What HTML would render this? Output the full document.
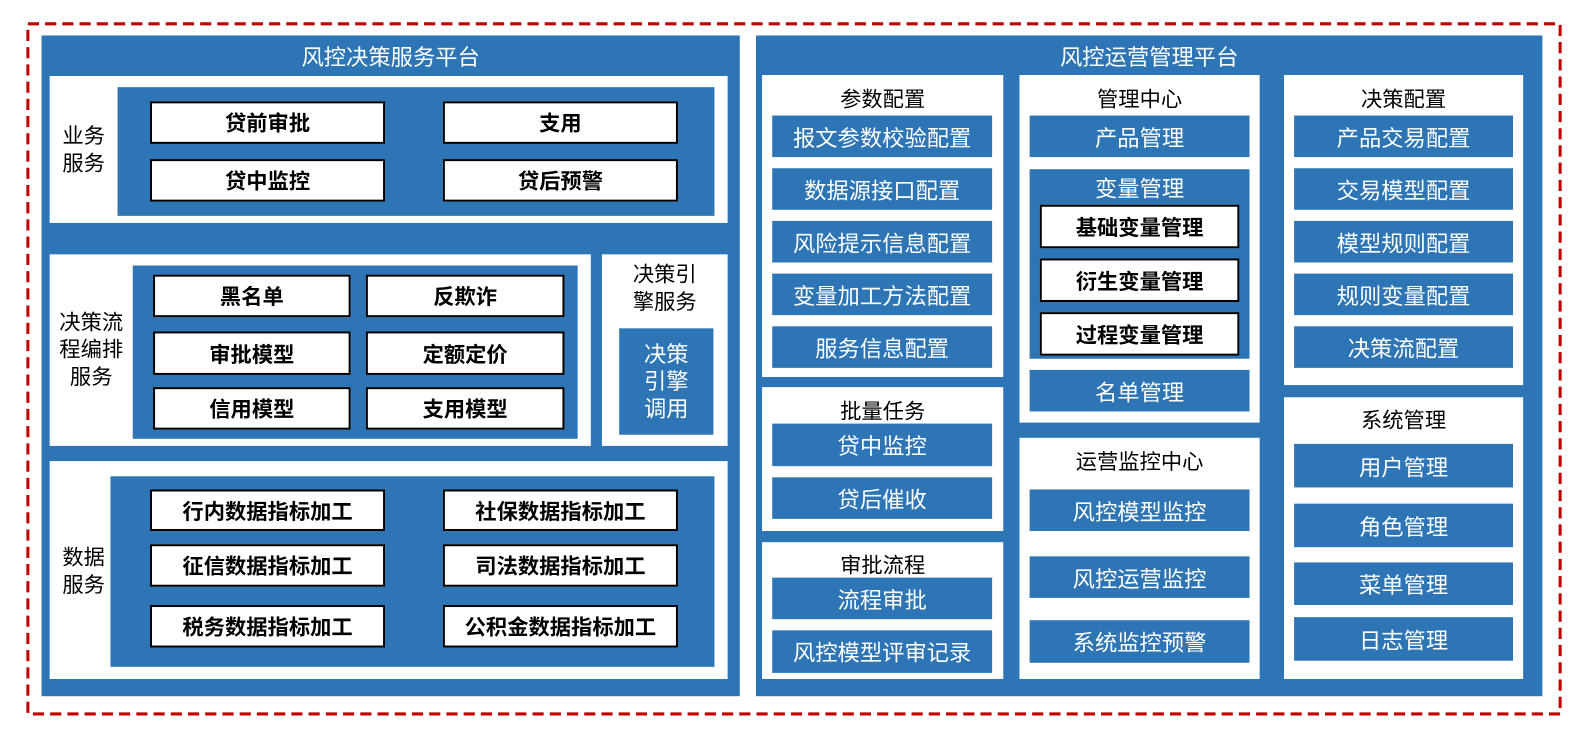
<!DOCTYPE html>
<html><head><meta charset="utf-8"><style>
body{margin:0;width:1589px;height:740px;background:#fff;position:relative;overflow:hidden;font-family:"Liberation Sans","Noto Sans CJK SC",sans-serif}
#root{position:absolute;left:0;top:0;width:1568px;height:730px;transform:scale(1.0134);transform-origin:0 0}
div{position:absolute;box-sizing:border-box}
.b{background:#2E75B6}
.w{background:#fff}
.t{color:#fff;display:flex;align-items:center;justify-content:center;font-size:22px}
.k{background:#fff;border:2px solid #000;display:flex;align-items:center;justify-content:center;font-weight:bold;font-size:21px;color:#000}
.h{color:#000;font-size:21px;text-align:center}
.i{background:#2E75B6;color:#fff;display:flex;align-items:center;justify-content:center;font-size:22px}
</style></head><body><div id="root">
<svg style="position:absolute;left:0;top:0" width="1568" height="730"><rect x="27.5" y="23.5" width="1512" height="681" fill="none" stroke="#C00000" stroke-width="3" stroke-dasharray="11,6"/></svg>

<div class="b" style="left:41px;top:35px;width:689px;height:652px"></div>
<div class="t" style="left:41px;top:40px;width:689px;height:30px">风控决策服务平台</div>
<div class="w" style="left:49px;top:75px;width:669px;height:145px"></div>
<div class="h" style="left:55px;top:121px;width:55px;line-height:27px">业务<br>服务</div>
<div class="b" style="left:116px;top:86px;width:589px;height:127px"></div>
<div class="k" style="left:148px;top:100px;width:232px;height:42px">贷前审批</div>
<div class="k" style="left:437px;top:100px;width:232px;height:42px">支用</div>
<div class="k" style="left:148px;top:157px;width:232px;height:42px">贷中监控</div>
<div class="k" style="left:437px;top:157px;width:232px;height:42px">贷后预警</div>

<div class="w" style="left:49px;top:251px;width:534px;height:189px"></div>
<div class="h" style="left:53px;top:305px;width:74px;line-height:27px">决策流<br>程编排<br>服务</div>
<div class="b" style="left:131px;top:262px;width:439px;height:171px"></div>
<div class="k" style="left:151px;top:271px;width:195px;height:42px">黑名单</div>
<div class="k" style="left:361px;top:271px;width:196px;height:42px">反欺诈</div>
<div class="k" style="left:151px;top:327px;width:195px;height:43px">审批模型</div>
<div class="k" style="left:361px;top:327px;width:196px;height:43px">定额定价</div>
<div class="k" style="left:151px;top:382px;width:195px;height:42px">信用模型</div>
<div class="k" style="left:361px;top:382px;width:196px;height:42px">支用模型</div>

<div class="w" style="left:594px;top:251px;width:124px;height:189px"></div>
<div class="h" style="left:594px;top:258px;width:124px;line-height:27px">决策引<br>擎服务</div>
<div class="b" style="left:611px;top:324px;width:93px;height:105px"></div>
<div class="t" style="left:611px;top:324px;width:93px;height:105px;line-height:27px;text-align:center">决策<br>引擎<br>调用</div>

<div class="w" style="left:49px;top:455px;width:669px;height:215px"></div>
<div class="h" style="left:55px;top:537px;width:55px;line-height:27px">数据<br>服务</div>
<div class="b" style="left:109px;top:470px;width:596px;height:188px"></div>
<div class="k" style="left:148px;top:483px;width:232px;height:41px">行内数据指标加工</div>
<div class="k" style="left:437px;top:483px;width:232px;height:41px">社保数据指标加工</div>
<div class="k" style="left:148px;top:537px;width:232px;height:42px">征信数据指标加工</div>
<div class="k" style="left:437px;top:537px;width:232px;height:42px">司法数据指标加工</div>
<div class="k" style="left:148px;top:597px;width:232px;height:42px">税务数据指标加工</div>
<div class="k" style="left:437px;top:597px;width:232px;height:42px">公积金数据指标加工</div>

<div class="b" style="left:746px;top:35px;width:776px;height:652px"></div>
<div class="t" style="left:746px;top:40px;width:776px;height:30px">风控运营管理平台</div>

<div class="w" style="left:752px;top:74px;width:238px;height:298px"></div>
<div class="h" style="left:752px;top:82px;width:238px">参数配置</div>
<div class="i" style="left:762px;top:114px;width:217px;height:41px">报文参数校验配置</div>
<div class="i" style="left:762px;top:166px;width:217px;height:41px">数据源接口配置</div>
<div class="i" style="left:762px;top:218px;width:217px;height:41px">风险提示信息配置</div>
<div class="i" style="left:762px;top:270px;width:217px;height:41px">变量加工方法配置</div>
<div class="i" style="left:762px;top:322px;width:217px;height:41px">服务信息配置</div>

<div class="w" style="left:752px;top:382px;width:238px;height:142px"></div>
<div class="h" style="left:752px;top:390px;width:238px">批量任务</div>
<div class="i" style="left:762px;top:418px;width:217px;height:42px">贷中监控</div>
<div class="i" style="left:762px;top:471px;width:217px;height:41px">贷后催收</div>

<div class="w" style="left:752px;top:535px;width:238px;height:135px"></div>
<div class="h" style="left:752px;top:542px;width:238px">审批流程</div>
<div class="i" style="left:762px;top:570px;width:217px;height:41px">流程审批</div>
<div class="i" style="left:762px;top:622px;width:217px;height:42px">风控模型评审记录</div>

<div class="w" style="left:1006px;top:74px;width:237px;height:343px"></div>
<div class="h" style="left:1006px;top:82px;width:237px">管理中心</div>
<div class="i" style="left:1016px;top:114px;width:217px;height:41px">产品管理</div>
<div class="b" style="left:1016px;top:167px;width:217px;height:187px"></div>
<div class="t" style="left:1016px;top:171px;width:217px;height:28px">变量管理</div>
<div class="k" style="left:1026px;top:202px;width:197px;height:43px">基础变量管理</div>
<div class="k" style="left:1026px;top:255px;width:197px;height:43px">衍生变量管理</div>
<div class="k" style="left:1026px;top:308px;width:197px;height:43px">过程变量管理</div>
<div class="i" style="left:1016px;top:365px;width:217px;height:41px">名单管理</div>

<div class="w" style="left:1006px;top:432px;width:237px;height:238px"></div>
<div class="h" style="left:1006px;top:440px;width:237px">运营监控中心</div>
<div class="i" style="left:1016px;top:483px;width:217px;height:41px">风控模型监控</div>
<div class="i" style="left:1016px;top:549px;width:217px;height:41px">风控运营监控</div>
<div class="i" style="left:1016px;top:612px;width:217px;height:42px">系统监控预警</div>

<div class="w" style="left:1267px;top:74px;width:236px;height:306px"></div>
<div class="h" style="left:1267px;top:82px;width:236px">决策配置</div>
<div class="i" style="left:1277px;top:114px;width:216px;height:41px">产品交易配置</div>
<div class="i" style="left:1277px;top:166px;width:216px;height:41px">交易模型配置</div>
<div class="i" style="left:1277px;top:218px;width:216px;height:41px">模型规则配置</div>
<div class="i" style="left:1277px;top:270px;width:216px;height:41px">规则变量配置</div>
<div class="i" style="left:1277px;top:322px;width:216px;height:41px">决策流配置</div>

<div class="w" style="left:1267px;top:392px;width:236px;height:278px"></div>
<div class="h" style="left:1267px;top:399px;width:236px">系统管理</div>
<div class="i" style="left:1277px;top:438px;width:216px;height:43px">用户管理</div>
<div class="i" style="left:1277px;top:497px;width:216px;height:43px">角色管理</div>
<div class="i" style="left:1277px;top:555px;width:216px;height:42px">菜单管理</div>
<div class="i" style="left:1277px;top:609px;width:216px;height:43px">日志管理</div>
</div></body></html>
